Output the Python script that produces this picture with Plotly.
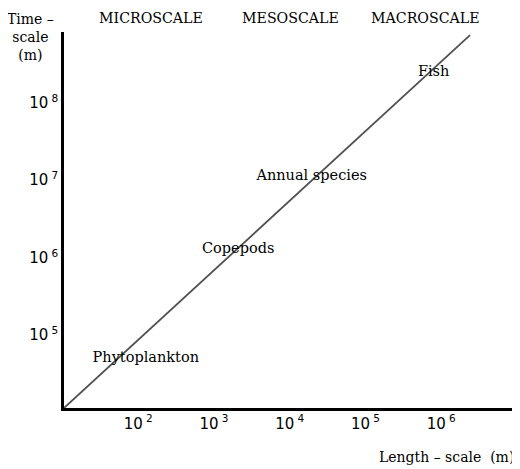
import plotly.graph_objects as go

# Data
line_length = [10**1.02, 10**6.38]       # length-scale (m)
line_time = [10**4.06, 10**8.87]         # time-scale
organisms = ["Phytoplankton", "Copepods", "Annual species", "Fish"]
org_length = [10**2.10, 10**3.32, 10**4.29, 10**5.90]
org_time = [10**4.705, 10**6.10, 10**7.05, 10**8.39]
x_tickvals = [1e2, 1e3, 1e4, 1e5, 1e6]
x_ticktext = ["10<sup> 2</sup>", "10<sup> 3</sup>", "10<sup> 4</sup>", "10<sup> 5</sup>", "10<sup> 6</sup>"]
y_tickvals = [1e5, 1e6, 1e7, 1e8]
y_ticktext = ["10<sup> 5</sup>", "10<sup> 6</sup>", "10<sup> 7</sup>", "10<sup> 8</sup>"]
scales = ["MICROSCALE", "MESOSCALE", "MACROSCALE"]
scale_pos = [0.192, 0.501, 0.799]

serif = "DejaVu Serif"

fig = go.Figure()
fig.add_trace(go.Scatter(
    x=line_length, y=line_time, mode="lines",
    line=dict(color="#505050", width=1.8), hoverinfo="skip", showlegend=False))
fig.add_trace(go.Scatter(
    x=org_length, y=org_time, mode="text", text=organisms,
    textposition="middle center",
    textfont=dict(family=serif, size=14.5, color="black"), showlegend=False))

for name, px in zip(scales, scale_pos):
    fig.add_annotation(x=px, y=1.037, xref="paper", yref="paper", text=name,
                       showarrow=False, xanchor="center", yanchor="middle",
                       font=dict(family=serif, size=14.2, color="black"))

fig.add_annotation(x=-0.073, y=1.062, xref="paper", yref="paper",
                   text="Time –<br>scale<br>(m)", showarrow=False,
                   xanchor="center", yanchor="top", align="center",
                   font=dict(family=serif, size=14, color="black"))
fig.add_annotation(x=0.998, y=-0.13, xref="paper", yref="paper",
                   text="Length – scale  (m)", showarrow=False,
                   xanchor="right", yanchor="middle",
                   font=dict(family=serif, size=14, color="black"))

fig.update_xaxes(type="log", range=[1.02, 7.0], tickvals=x_tickvals, ticktext=x_ticktext,
                 showgrid=False, zeroline=False, showline=True, linecolor="black",
                 linewidth=2.5, ticks="", tickfont=dict(family="DejaVu Sans", size=15, color="black"))
fig.update_yaxes(type="log", range=[4.06, 8.91], tickvals=y_tickvals, ticktext=y_ticktext,
                 showgrid=False, zeroline=False, showline=True, linecolor="black",
                 linewidth=2.5, ticks="", tickfont=dict(family="DejaVu Sans", size=15, color="black"))

# page body has an 8px default margin, so the figure is sized/offset to compensate
fig.update_layout(width=512, height=461,
                  margin=dict(l=56, r=3, t=24, b=61, autoexpand=False),
                  plot_bgcolor="white", paper_bgcolor="white")

fig.write_html("out.html")
